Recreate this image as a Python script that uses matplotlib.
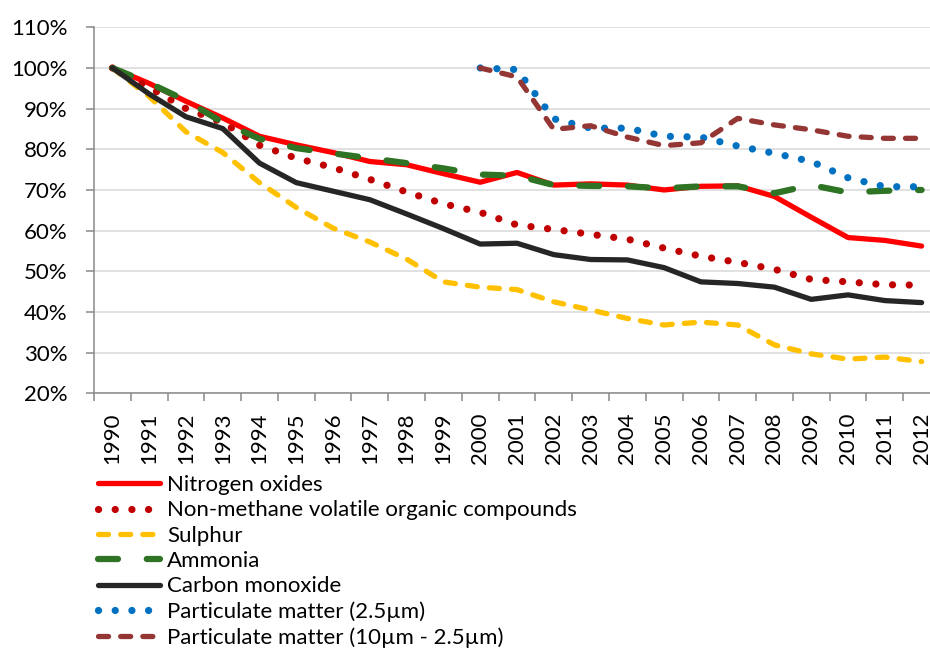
import matplotlib
matplotlib.use("Agg")
import matplotlib.pyplot as plt
import numpy as np

years = [str(y) for y in range(1990, 2013)]

nitrogen_oxides = [100, 96.2, 91.8, 87.7, 83.2, 81.1, 79.2, 77.0, 76.2, 74.0, 71.9, 74.3,
                   71.2, 71.5, 71.2, 70.0, 70.9, 71.0, 68.4, 63.3, 58.3, 57.6, 56.2]
nmvoc = [100, 95.2, 90.0, 86.6, 81.0, 77.8, 75.5, 72.6, 69.5, 66.6, 64.5, 61.4,
         60.3, 59.1, 57.9, 55.7, 53.7, 52.2, 50.5, 48.0, 47.4, 46.7, 46.6]
sulphur = [100, 93.0, 84.3, 79.2, 71.8, 65.7, 60.6, 57.2, 53.0, 47.4, 46.1, 45.5,
           42.5, 40.5, 38.4, 36.8, 37.5, 36.8, 31.9, 29.7, 28.4, 28.9, 27.8]
ammonia = [100, 96.3, 92.0, 86.6, 82.6, 80.3, 79.0, 77.8, 76.6, 75.3, 73.8, 73.5,
           71.2, 71.0, 70.9, 70.4, 70.9, 70.9, 69.2, 71.2, 69.4, 69.8, 70.0]
carbon_monoxide = [100, 93.6, 88.0, 85.1, 76.6, 71.8, 69.7, 67.6, 64.1, 60.5, 56.7, 56.9,
                   54.1, 52.9, 52.8, 50.9, 47.4, 47.0, 46.1, 43.1, 44.2, 42.8, 42.3]
pm25 = [np.nan] * 10 + [100, 99.6, 87.5, 85.2, 85.2, 83.2, 83.0, 80.8, 79.0, 77.0,
                        73.0, 70.8, 70.8]
pm10_25 = [np.nan] * 10 + [100, 97.8, 84.9, 85.8, 83.0, 80.9, 81.6, 87.6, 86.0, 84.8,
                           83.2, 82.7, 82.7]

series_names = ["Nitrogen oxides", "Non-methane volatile organic compounds", "Sulphur",
                "Ammonia", "Carbon monoxide", "Particulate matter (2.5\u00b5m)",
                "Particulate matter (10\u00b5m - 2.5\u00b5m)"]

plt.rcParams['font.family'] = ['Lato', 'DejaVu Sans']

fig = plt.figure(figsize=(9.3, 6.51), dpi=100)
ax = fig.add_axes([94 / 930, 1 - 393.3 / 651, 846 / 930, (393.3 - 27.3) / 651])

x = np.arange(len(years))

styles = [
    dict(color="#FF0000", lw=3.8, ls="-", solid_capstyle="round"),
    dict(color="#C00000", lw=5.2, ls=(0, (0.01, 2.3)), dash_capstyle="round"),
    dict(color="#FFC000", lw=3.8, ls=(0, (1.9, 2.3)), dash_capstyle="round"),
    dict(color="#2E7424", lw=4.5, ls=(0, (3.2, 4.6)), dash_capstyle="round"),
    dict(color="#262626", lw=3.8, ls="-", solid_capstyle="round"),
    dict(color="#0070C0", lw=5.2, ls=(0, (0.01, 2.3)), dash_capstyle="round"),
    dict(color="#943634", lw=3.8, ls=(0, (1.9, 2.3)), dash_capstyle="round"),
]
data = [nitrogen_oxides, nmvoc, sulphur, ammonia, carbon_monoxide, pm25, pm10_25]

for name, vals, st in zip(series_names, data, styles):
    ax.plot(x, vals, label=name, **st)

ax.set_xlim(-0.5, len(years) - 0.5)
ax.set_ylim(20, 110)
ax.set_yticks(np.arange(20, 111, 10))
ax.set_yticklabels([f"{v}%" for v in range(20, 111, 10)])
ax.set_xticks(x)
ax.set_xticklabels(years, rotation=90)
ax.set_xticks(np.arange(-0.5, len(years), 1), minor=True)

ax.tick_params(axis="x", which="major", length=0, pad=13.5, labelsize=16)
ax.tick_params(axis="x", which="minor", length=5.8, width=1.1, color="#898989", direction="out")
ax.tick_params(axis="y", length=5.8, width=1.1, color="#898989", pad=13, labelsize=16)

ax.grid(axis="y", color="#D9D9D9", lw=1.1)
ax.set_axisbelow(True)
for s in ["top", "right"]:
    ax.spines[s].set_visible(False)
for s in ["left", "bottom"]:
    ax.spines[s].set_color("#898989")
    ax.spines[s].set_linewidth(1.1)

leg = fig.legend(loc="upper left", bbox_to_anchor=(98 / 930, 1 - 475 / 651),
                 frameon=False, fontsize=16, handlelength=2.8, handletextpad=0.3,
                 labelspacing=0.24, borderpad=0, borderaxespad=0)

fig.savefig("out.png", dpi=100)
